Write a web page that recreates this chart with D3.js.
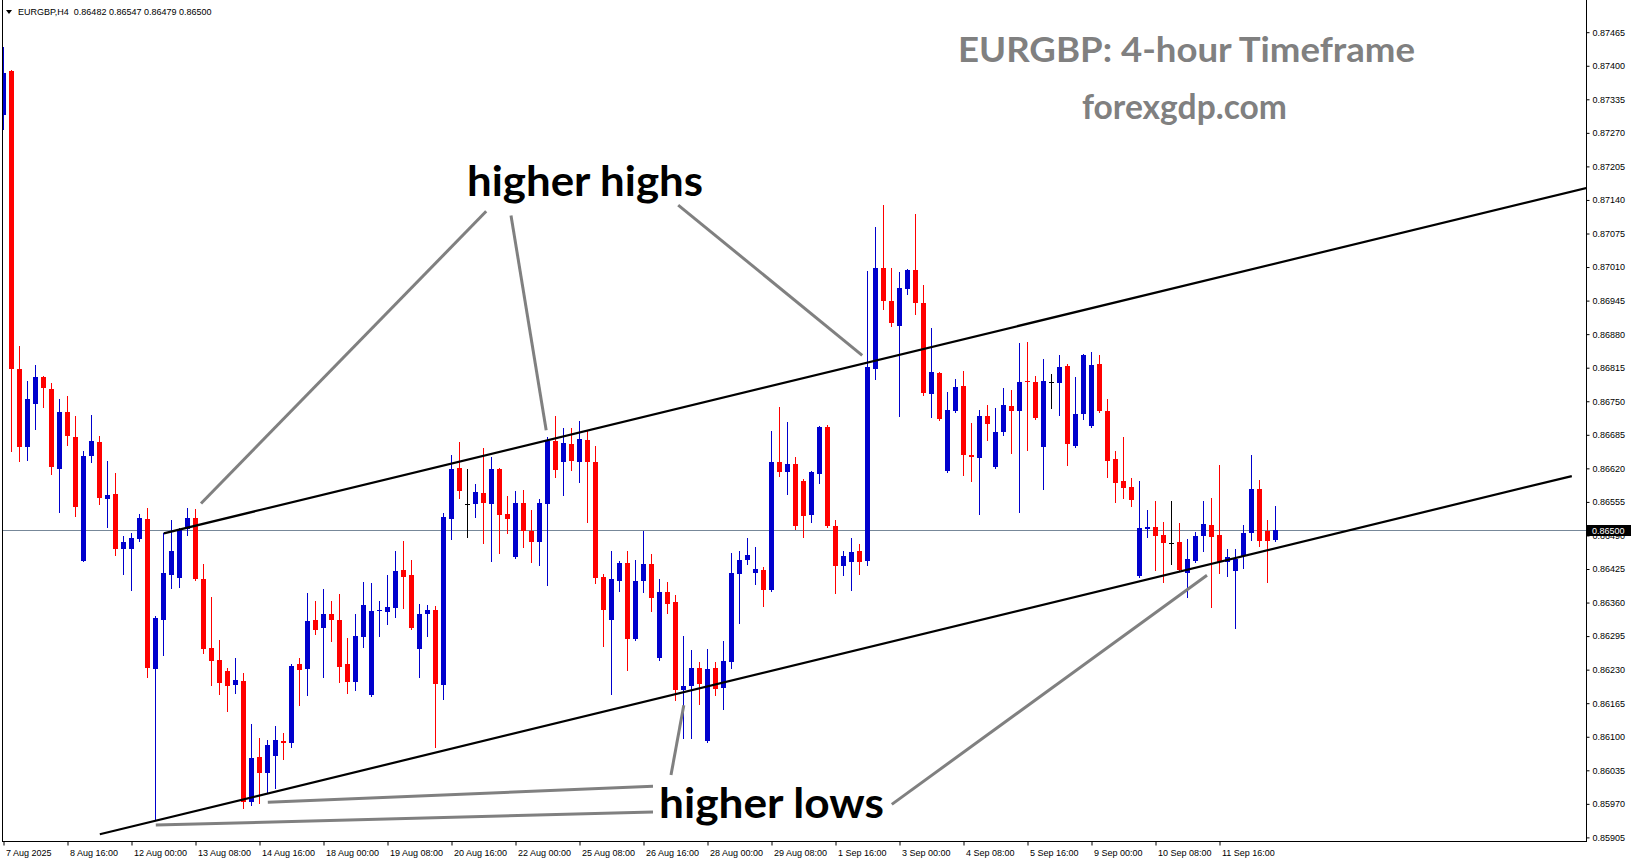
<!DOCTYPE html>
<html><head><meta charset="utf-8">
<script src="https://cdn.jsdelivr.net/npm/d3@7"></script>
<style>html,body{margin:0;padding:0;background:#fff;overflow:hidden}</style>
</head><body>
<svg id="chart" width="1631" height="861"></svg>
<script>
// ---- DATA (EURGBP H4 candles) ----
const opens = [0.87304,0.87389,0.86812,0.86661,0.86744,0.86797,0.86773,0.86618,0.86729,0.86680,
0.86440,0.86644,0.86671,0.86560,0.86570,0.86463,0.86463,0.86483,0.86521,0.86231,
0.86326,0.86413,0.86407,0.86502,0.86523,0.86406,0.86272,0.86249,0.86227,0.86200,
0.86208,0.85973,0.86061,0.86030,0.86063,0.86091,0.86087,0.86240,0.86231,0.86326,
0.86311,0.86337,0.86326,0.86240,0.86207,0.86293,0.86180,0.86343,0.86341,0.86349,
0.86423,0.86413,0.86270,0.86337,0.86345,0.86200,0.86521,0.86621,0.86550,0.86550,
0.86572,0.86550,0.86619,0.86531,0.86448,0.86552,0.86498,0.86477,0.86550,0.86673,
0.86632,0.86667,0.86632,0.86675,0.86632,0.86409,0.86326,0.86402,0.86436,0.86289,
0.86402,0.86434,0.86252,0.86380,0.86361,0.86190,0.86198,0.86233,0.86091,0.86233,
0.86194,0.86244,0.86415,0.86442,0.86417,0.86423,0.86384,0.86632,0.86613,0.86628,
0.86595,0.86529,0.86609,0.86700,0.86508,0.86430,0.86438,0.86459,0.86440,0.86812,
0.87008,0.86944,0.86895,0.86967,0.87004,0.86940,0.86764,0.86804,0.86615,0.86731,
0.86779,0.86646,0.86640,0.86721,0.86623,0.86690,0.86740,0.86731,0.86789,0.86787,
0.86661,0.86787,0.86785,0.86818,0.86663,0.86725,0.86702,0.86822,0.86731,0.86638,
0.86595,0.86584,0.86411,0.86502,0.86506,0.86490,0.86475,0.86477,0.86417,0.86440,
0.86489,0.86510,0.86490,0.86438,0.86421,0.86450,0.86494,0.86580,0.86498,0.86482];
const highs = [0.87436,0.87391,0.86857,0.86789,0.86820,0.86799,0.86785,0.86754,0.86760,0.86721,
0.86653,0.86723,0.86682,0.86634,0.86611,0.86489,0.86494,0.86531,0.86543,0.86334,
0.86494,0.86519,0.86504,0.86543,0.86541,0.86434,0.86370,0.86287,0.86233,0.86252,
0.86223,0.86124,0.86097,0.86093,0.86120,0.86107,0.86240,0.86252,0.86378,0.86363,
0.86386,0.86363,0.86376,0.86291,0.86337,0.86400,0.86398,0.86363,0.86413,0.86459,
0.86479,0.86442,0.86357,0.86355,0.86353,0.86533,0.86646,0.86671,0.86619,0.86590,
0.86659,0.86642,0.86621,0.86566,0.86576,0.86578,0.86539,0.86561,0.86680,0.86721,
0.86698,0.86698,0.86711,0.86692,0.86663,0.86415,0.86459,0.86440,0.86459,0.86442,
0.86498,0.86455,0.86405,0.86400,0.86374,0.86295,0.86268,0.86244,0.86270,0.86244,
0.86285,0.86456,0.86459,0.86485,0.86467,0.86428,0.86692,0.86739,0.86709,0.86642,
0.86599,0.86615,0.86702,0.86704,0.86519,0.86459,0.86485,0.86473,0.87002,0.87088,
0.87130,0.87008,0.87000,0.87006,0.87113,0.86975,0.86892,0.86806,0.86768,0.86793,
0.86808,0.86708,0.86733,0.86742,0.86737,0.86775,0.86771,0.86862,0.86864,0.86799,
0.86832,0.86802,0.86839,0.86822,0.86797,0.86841,0.86845,0.86839,0.86754,0.86653,
0.86680,0.86601,0.86595,0.86539,0.86556,0.86517,0.86556,0.86514,0.86483,0.86496,
0.86556,0.86562,0.86626,0.86463,0.86463,0.86510,0.86646,0.86598,0.86519,0.86547];
const lows = [0.87277,0.86653,0.86634,0.86636,0.86696,0.86739,0.86609,0.86535,0.86666,0.86527,
0.86440,0.86632,0.86550,0.86506,0.86453,0.86415,0.86384,0.86479,0.86215,0.85938,
0.86258,0.86388,0.86390,0.86491,0.86404,0.86262,0.86200,0.86182,0.86150,0.86184,
0.85961,0.85967,0.85971,0.85991,0.86001,0.86057,0.86081,0.86161,0.86180,0.86299,
0.86215,0.86286,0.86207,0.86184,0.86190,0.86274,0.86178,0.86295,0.86318,0.86332,
0.86349,0.86309,0.86215,0.86295,0.86081,0.86173,0.86483,0.86563,0.86487,0.86525,
0.86475,0.86440,0.86456,0.86494,0.86446,0.86467,0.86438,0.86432,0.86394,0.86603,
0.86568,0.86617,0.86593,0.86517,0.86398,0.86276,0.86182,0.86382,0.86229,0.86287,
0.86380,0.86343,0.86248,0.86339,0.86171,0.86097,0.86097,0.86163,0.86089,0.86180,
0.86153,0.86233,0.86320,0.86434,0.86396,0.86353,0.86382,0.86605,0.86571,0.86502,
0.86487,0.86517,0.86591,0.86506,0.86378,0.86413,0.86384,0.86415,0.86432,0.86793,
0.86928,0.86895,0.86721,0.86957,0.86920,0.86762,0.86719,0.86713,0.86613,0.86729,
0.86607,0.86595,0.86531,0.86675,0.86621,0.86684,0.86650,0.86535,0.86655,0.86715,
0.86580,0.86737,0.86723,0.86626,0.86661,0.86715,0.86700,0.86729,0.86603,0.86555,
0.86563,0.86548,0.86409,0.86487,0.86423,0.86400,0.86434,0.86421,0.86370,0.86438,
0.86459,0.86351,0.86417,0.86411,0.86311,0.86427,0.86481,0.86469,0.86400,0.86479];
const closes = [0.87386,0.86812,0.86661,0.86754,0.86797,0.86775,0.86622,0.86729,0.86682,0.86545,
0.86644,0.86673,0.86562,0.86568,0.86463,0.86477,0.86485,0.86523,0.86233,0.86330,
0.86417,0.86459,0.86500,0.86523,0.86406,0.86270,0.86247,0.86204,0.86198,0.86210,
0.85973,0.86059,0.86030,0.86084,0.86093,0.86087,0.86238,0.86230,0.86324,0.86307,
0.86337,0.86326,0.86235,0.86207,0.86295,0.86355,0.86343,0.86345,0.86351,0.86421,
0.86409,0.86311,0.86337,0.86345,0.86202,0.86525,0.86619,0.86576,0.86550,0.86574,
0.86552,0.86619,0.86529,0.86521,0.86552,0.86498,0.86477,0.86552,0.86673,0.86617,
0.86669,0.86634,0.86677,0.86632,0.86407,0.86345,0.86406,0.86437,0.86289,0.86402,
0.86434,0.86368,0.86380,0.86357,0.86190,0.86198,0.86233,0.86202,0.86231,0.86192,
0.86246,0.86417,0.86442,0.86453,0.86425,0.86384,0.86632,0.86613,0.86628,0.86508,
0.86527,0.86613,0.86700,0.86508,0.86430,0.86450,0.86457,0.86438,0.86816,0.87008,
0.86944,0.86901,0.86969,0.87004,0.86940,0.86766,0.86806,0.86715,0.86733,0.86777,
0.86646,0.86642,0.86721,0.86706,0.86690,0.86742,0.86731,0.86787,0.86787,0.86717,
0.86789,0.86787,0.86816,0.86667,0.86725,0.86839,0.86820,0.86731,0.86634,0.86592,
0.86582,0.86558,0.86504,0.86506,0.86488,0.86475,0.86475,0.86423,0.86444,0.86489,
0.86512,0.86487,0.86438,0.86448,0.86444,0.86494,0.86580,0.86479,0.86479,0.86500];

const timeLabels = ["7 Aug 2025","8 Aug 16:00","12 Aug 00:00","13 Aug 08:00","14 Aug 16:00",
"18 Aug 00:00","19 Aug 08:00","20 Aug 16:00","22 Aug 00:00","25 Aug 08:00","26 Aug 16:00",
"28 Aug 00:00","29 Aug 08:00","1 Sep 16:00","3 Sep 00:00","4 Sep 08:00","5 Sep 16:00",
"9 Sep 00:00","10 Sep 08:00","11 Sep 16:00"];
const barsPerLabel = 8;
const priceTicks = d3.range(25).map(k => +(0.85905 + 0.00065 * k).toFixed(5));
const currentPrice = 0.86500;
const headerText = "EURGBP,H4  0.86482 0.86547 0.86479 0.86500";

// trend channel lines: [bar index, price]
const channelUpper = [[20.1, 0.86494], [197.9, 0.87163]];
const channelLower = [[12.1, 0.85911], [196.1, 0.86605]];
// gray pointer lines: [bar, price] -> [bar, price]
const pointerLines = [
  [[60.4, 0.87118], [24.75, 0.86552]],
  [[63.5, 0.87110], [67.9, 0.86694]],
  [[84.4, 0.87130], [107.4, 0.86839]],
  [[81.25, 0.86004], [33.1, 0.85973]],
  [[81.25, 0.85954], [19.1, 0.85929]],
  [[83.5, 0.86026], [85.1, 0.86161]],
  [[111.1, 0.85969], [150.5, 0.86413]]
];

// ---- DRAWING ----
const W = 1631, H = 861;
const plotLeft = 2, plotRight = 1586, plotBottom = 841;
const svg = d3.select("#chart");

const x = d3.scaleLinear().domain([0, 1]).range([3, 11]);
const y = d3.scaleLinear().domain([0.85905, 0.87465]).range([837.4, 32.2]);

const candles = opens.map((o, i) => ({i, o, h: highs[i], l: lows[i], c: closes[i]}));

svg.append("defs").append("clipPath").attr("id", "plotclip")
  .append("rect").attr("x", plotLeft).attr("y", 0).attr("width", plotRight - plotLeft).attr("height", plotBottom);

// current price line
svg.append("line")
  .attr("x1", plotLeft).attr("x2", plotRight)
  .attr("y1", Math.round(y(currentPrice)) + 0.5).attr("y2", Math.round(y(currentPrice)) + 0.5)
  .attr("stroke", "#778899").attr("stroke-width", 1);

const colorOf = d => d.c > d.o ? "#0000CD" : (d.c < d.o ? "#FF0000" : "#000000");
const cg = svg.append("g").attr("clip-path", "url(#plotclip)").attr("shape-rendering", "crispEdges");
cg.selectAll("rect.wick").data(candles).join("rect").attr("class", "wick")
  .attr("x", d => Math.round(x(d.i)))
  .attr("y", d => Math.round(y(d.h)))
  .attr("width", 1)
  .attr("height", d => Math.max(1, Math.round(y(d.l)) - Math.round(y(d.h)) + 1))
  .attr("fill", colorOf);
cg.selectAll("rect.body").data(candles).join("rect").attr("class", "body")
  .attr("x", d => Math.round(x(d.i)) - 2)
  .attr("y", d => Math.round(y(Math.max(d.o, d.c))))
  .attr("width", 5)
  .attr("height", d => Math.max(1, Math.round(y(Math.min(d.o, d.c))) - Math.round(y(Math.max(d.o, d.c)))))
  .attr("fill", colorOf);

// channel lines
const lg = svg.append("g").attr("clip-path", "url(#plotclip)");
[channelUpper, channelLower].forEach(seg => {
  lg.append("line")
    .attr("x1", x(seg[0][0])).attr("y1", y(seg[0][1]))
    .attr("x2", x(seg[1][0])).attr("y2", y(seg[1][1]))
    .attr("stroke", "#000").attr("stroke-width", 2.2);
});
pointerLines.forEach(seg => {
  lg.append("line")
    .attr("x1", x(seg[0][0])).attr("y1", y(seg[0][1]))
    .attr("x2", x(seg[1][0])).attr("y2", y(seg[1][1]))
    .attr("stroke", "#808080").attr("stroke-width", 3);
});

// frame
svg.append("line").attr("x1", plotLeft + 0.5).attr("x2", plotLeft + 0.5).attr("y1", 0).attr("y2", plotBottom)
  .attr("stroke", "#000");
svg.append("line").attr("x1", plotLeft).attr("x2", plotRight + 1).attr("y1", plotBottom + 0.5).attr("y2", plotBottom + 0.5)
  .attr("stroke", "#000");
svg.append("line").attr("x1", plotRight + 0.5).attr("x2", plotRight + 0.5).attr("y1", 0).attr("y2", plotBottom + 1)
  .attr("stroke", "#000");

// right price axis
const yAxis = d3.axisRight(y).tickValues(priceTicks).tickSize(3).tickPadding(3).tickFormat(d3.format(".5f"));
const ya = svg.append("g").attr("transform", `translate(${plotRight + 0.5},0)`).call(yAxis);
ya.select(".domain").remove();
ya.selectAll("text").attr("font-family", "'Liberation Sans', Arial, sans-serif").attr("font-size", "9px").attr("fill", "#000");
ya.selectAll("line").attr("stroke", "#000");

// current price box
svg.append("rect").attr("x", plotRight + 1).attr("y", Math.round(y(currentPrice)) - 5)
  .attr("width", 45).attr("height", 11).attr("fill", "#000");
svg.append("text").attr("x", plotRight + 6).attr("y", Math.round(y(currentPrice)) + 3.5)
  .attr("font-family", "'Liberation Sans', Arial, sans-serif").attr("font-size", "9px").attr("fill", "#fff")
  .text(d3.format(".5f")(currentPrice));

// bottom time axis
const labelBars = timeLabels.map((_, k) => k * barsPerLabel);
const xAxis = d3.axisBottom(x).tickValues(labelBars).tickSize(4).tickFormat((d, k) => timeLabels[k]);
const xa = svg.append("g").attr("transform", `translate(0.5,${plotBottom + 0.5})`).call(xAxis);
xa.select(".domain").remove();
xa.selectAll("text").attr("text-anchor", "start").attr("dx", "2").attr("y", 8)
  .attr("font-family", "'Liberation Sans', Arial, sans-serif").attr("font-size", "9px").attr("fill", "#000");
xa.selectAll("line").attr("stroke", "#000");

// header
svg.append("path").attr("d", "M6,10 L12,10 L9,14 Z").attr("fill", "#000");
svg.append("text").attr("x", 18).attr("y", 15).attr("xml:space", "preserve")
  .attr("font-family", "'Liberation Sans', Arial, sans-serif").attr("font-size", "9px").attr("fill", "#000")
  .text(headerText);

// annotation texts
const font = "Lato, 'Open Sans', sans-serif";
svg.append("text").attr("x", 958).attr("y", 62).attr("font-family", font).attr("font-weight", 700)
  .attr("font-size", "35px").attr("fill", "#808080").attr("textLength", 457).attr("lengthAdjust", "spacingAndGlyphs")
  .text("EURGBP: 4-hour Timeframe");
svg.append("text").attr("x", 1082).attr("y", 119).attr("font-family", font).attr("font-weight", 700)
  .attr("font-size", "35px").attr("fill", "#808080").attr("textLength", 205).attr("lengthAdjust", "spacingAndGlyphs")
  .text("forexgdp.com");
svg.append("text").attr("x", 467).attr("y", 196).attr("font-family", font).attr("font-weight", 700)
  .attr("font-size", "42px").attr("fill", "#000").attr("textLength", 236).attr("lengthAdjust", "spacingAndGlyphs")
  .text("higher highs");
svg.append("text").attr("x", 659).attr("y", 818).attr("font-family", font).attr("font-weight", 700)
  .attr("font-size", "42px").attr("fill", "#000").attr("textLength", 225).attr("lengthAdjust", "spacingAndGlyphs")
  .text("higher lows");
</script>
</body></html>
